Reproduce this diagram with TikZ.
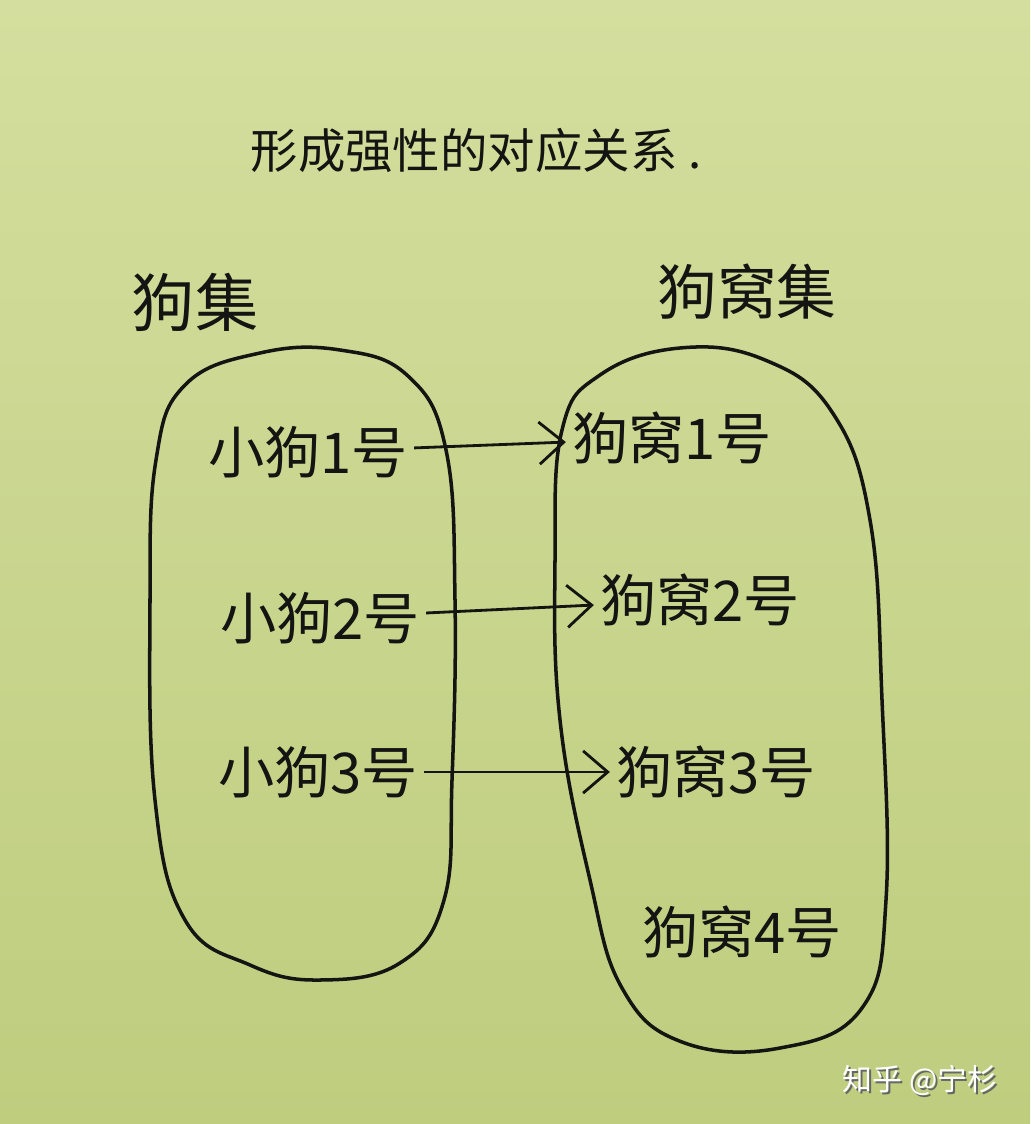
\documentclass[tikz,border=0pt]{standalone}
\usepackage{fontspec}
\setmainfont{Noto Sans CJK SC}
\usetikzlibrary{arrows.meta}
\definecolor{paperlight}{RGB}{212,222,158}
\definecolor{paperdark}{RGB}{190,205,126}
\definecolor{ink}{RGB}{20,20,18}
\begin{document}
\begin{tikzpicture}[x=0.02cm,y=-0.02cm,
    pen/.style={draw=ink,line width=2pt},
    mapto/.style={draw=ink,line width=1.6pt,-{Straight Barb[length=14pt,width=24pt,line width=1.6pt]}},
    item/.style={text=ink,font=\fontsize{32}{36}\selectfont}]
  \shade[top color=paperlight,bottom color=paperdark] (0,0) rectangle (1030,1124);

  \node[text=ink,font=\fontsize{27}{30}\selectfont] (title) at (476,150) {形成强性的对应关系\ .};
  \node[text=ink,font=\fontsize{36}{40}\selectfont] (dogset) at (195,302) {狗集};
  \node[text=ink,font=\fontsize{34}{40}\selectfont] (kennelset) at (747,292) {狗窝集};

  % the two sets
  \draw[pen] plot[smooth cycle,tension=0.7] coordinates {(185,385) (260,353) (340,350) (408,376) (446,450)
    (455,600) (452,780) (444,900) (400,963) (320,980) (250,965) (185,920) (155,800) (150,600) (156,460)};
  \draw[pen] plot[smooth cycle,tension=0.7] coordinates {(600,375) (680,348) (765,360) (832,412) (870,520)
    (882,700) (886,900) (862,1008) (780,1048) (682,1042) (622,988) (590,880) (560,720) (555,560) (562,430)};

  \foreach[count=\i] \x/\y in {308/452,320/618,318/772} {
    \node[item] (dog\i) at (\x,\y) {小狗\i 号};
  }
  \foreach[count=\i] \x/\y in {672/438,700/600,716/772,742/932} {
    \node[item] (kennel\i) at (\x,\y) {狗窝\i 号};
  }
  \foreach \i in {1,2,3} \draw[mapto] (dog\i) -- (kennel\i);

  \node[text=black!60,font=\fontsize{17}{20}\selectfont] (markshadow) at (922,1082) {知乎 @宁杉};
  \node[text=white,font=\fontsize{17}{20}\selectfont] (mark) at (920,1080) {知乎 @宁杉};
\end{tikzpicture}
\end{document}
